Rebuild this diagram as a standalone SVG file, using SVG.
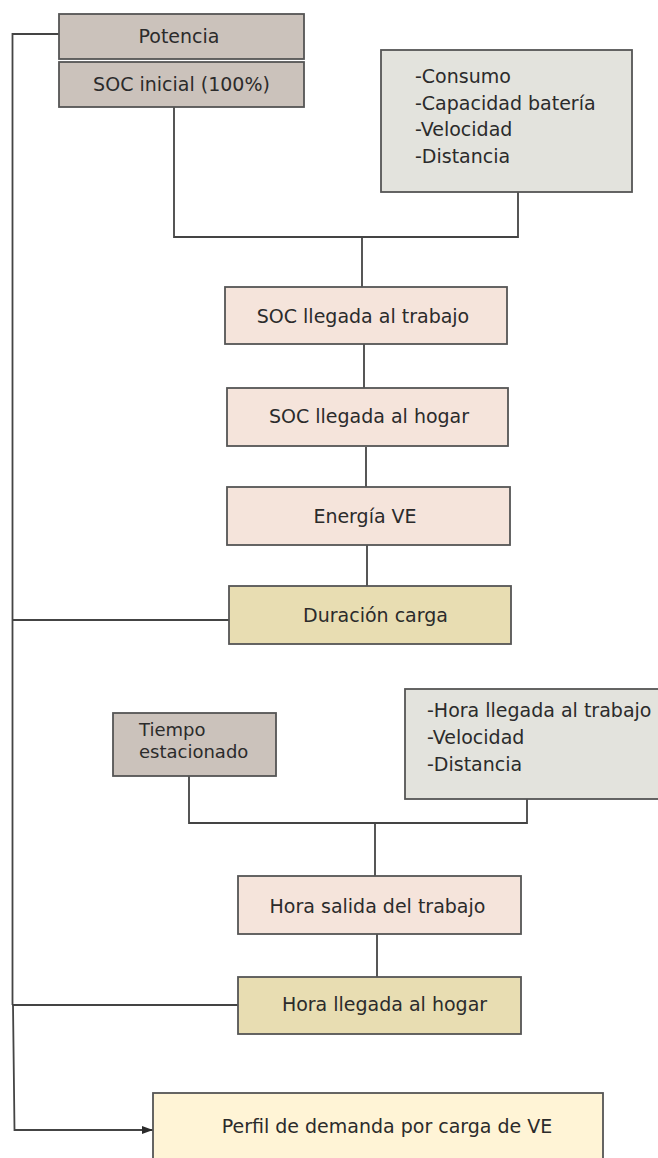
<svg xmlns="http://www.w3.org/2000/svg" width="658" height="1158" viewBox="0 0 658 1158">
<style>
.box{stroke:#555;stroke-width:1.8}
.taupe{fill:#cbc2bb}
.grey{fill:#e3e3dd}
.pink{fill:#f5e4db}
.khaki{fill:#e8ddb2}
.cream{fill:#fff4d6}
text{font-family:"DejaVu Sans","Liberation Sans",sans-serif;font-size:19px;fill:#2b2b2b}
.c{text-anchor:middle}
.tight{font-size:18px}
.ln{fill:none;stroke:#444;stroke-width:1.8}
</style>
<defs>
<marker id="arr" markerWidth="12" markerHeight="10" refX="11" refY="5" orient="auto" markerUnits="userSpaceOnUse">
<path d="M0,1 L11,5 L0,9 Z" fill="#2b2b2b"/>
</marker>
</defs>
<g id="connectors">
<path class="ln" d="M59 34 H12.5 V1005"/>
<path class="ln" d="M174 107 V237 H518 V192"/>
<path class="ln" d="M362 237 V287"/>
<path class="ln" d="M364 344 V388"/>
<path class="ln" d="M366 447 V487"/>
<path class="ln" d="M367 545 V586"/>
<path class="ln" d="M12.5 620 H229"/>
<path class="ln" d="M12.5 620 H70" stroke="#222" stroke-width="2.2"/>
<path class="ln" d="M189 776 V823 H527 V799"/>
<path class="ln" d="M375 823 V876"/>
<path class="ln" d="M377 934 V977"/>
<path class="ln" d="M12.5 1005 H238"/>
<path class="ln" d="M13 1005 L14.5 1130 H153" marker-end="url(#arr)"/>
</g>
<g id="potencia">
<rect class="box taupe" x="59" y="14" width="245" height="45"/>
<text class="c" x="179" y="43">Potencia</text>
</g>
<g id="soc-inicial">
<rect class="box taupe" x="59" y="62" width="245" height="45"/>
<text class="c" x="181.5" y="91">SOC inicial (100%)</text>
</g>
<g id="parametros1">
<rect class="box grey" x="381" y="50" width="251" height="142"/>
<text x="415" y="83">-Consumo</text>
<text x="415" y="110">-Capacidad batería</text>
<text x="415" y="136">-Velocidad</text>
<text x="415" y="163">-Distancia</text>
</g>
<g id="soc-trabajo">
<rect class="box pink" x="225" y="287" width="282" height="57"/>
<text class="c" x="363" y="323">SOC llegada al trabajo</text>
</g>
<g id="soc-hogar">
<rect class="box pink" x="227" y="388" width="281" height="58"/>
<text class="c" x="369" y="423">SOC llegada al hogar</text>
</g>
<g id="energia">
<rect class="box pink" x="227" y="487" width="283" height="58"/>
<text class="c" x="365" y="523">Energía VE</text>
</g>
<g id="duracion">
<rect class="box khaki" x="229" y="586" width="282" height="58"/>
<text class="c" x="375.5" y="622">Duración carga</text>
</g>
<g id="tiempo">
<rect class="box taupe" x="113" y="713" width="163" height="63"/>
<text class="tight" x="139" y="736">Tiempo</text>
<text class="tight" x="139" y="758">estacionado</text>
</g>
<g id="parametros2">
<rect class="box grey" x="405" y="689" width="262" height="110"/>
<text x="427" y="717">-Hora llegada al trabajo</text>
<text x="427" y="744">-Velocidad</text>
<text x="427" y="771">-Distancia</text>
</g>
<g id="hora-salida">
<rect class="box pink" x="238" y="876" width="283" height="58"/>
<text class="c" x="377.5" y="913">Hora salida del trabajo</text>
</g>
<g id="hora-llegada">
<rect class="box khaki" x="238" y="977" width="283" height="57"/>
<text class="c" x="384.5" y="1011">Hora llegada al hogar</text>
</g>
<g id="perfil">
<rect class="box cream" x="153" y="1093" width="450" height="80"/>
<text class="c" x="387" y="1133">Perfil de demanda por carga de VE</text>
</g>
</svg>
